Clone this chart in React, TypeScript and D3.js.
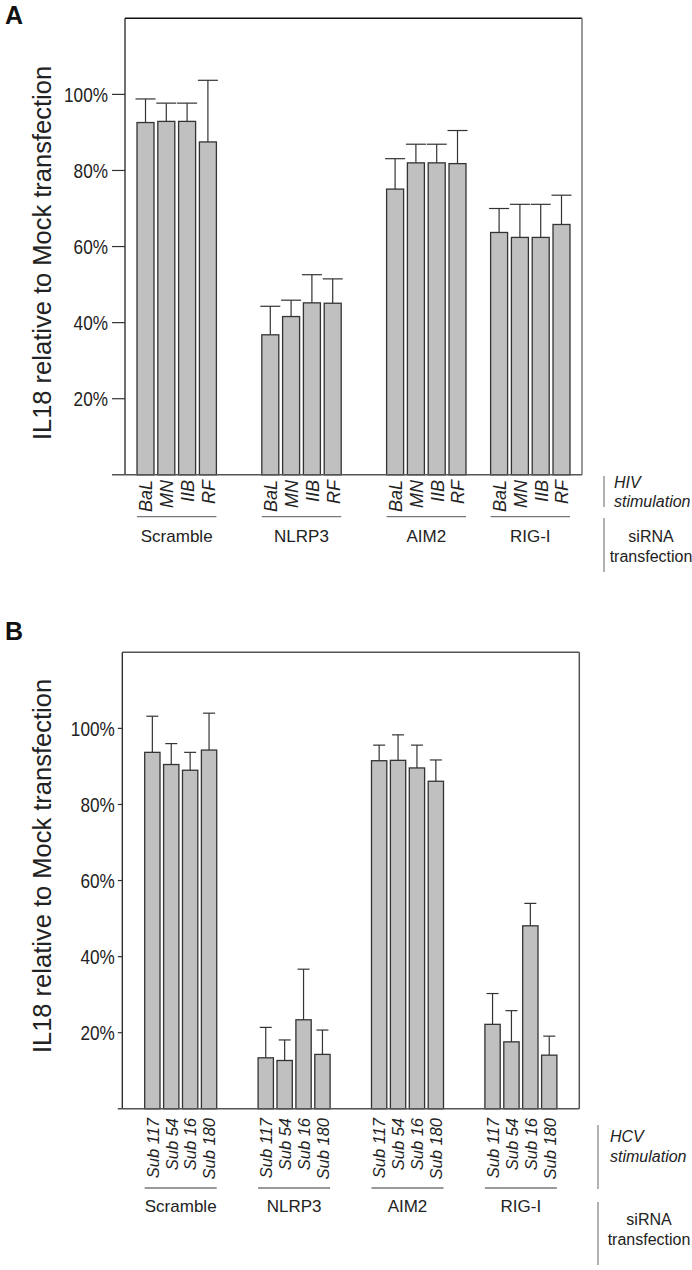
import { useEffect, useRef } from 'react';
import * as d3 from 'd3';

// siRNA groups (shared by both panels)
const sirnaGroups = ['Scramble', 'NLRP3', 'AIM2', 'RIG-I'];

// Panel A: HIV strains
const hivStrains = ['BaL', 'MN', 'IIB', 'RF'];
const hivMeans = [
  [92.6, 92.9, 92.9, 87.5],
  [36.8, 41.6, 45.2, 45.1],
  [75.1, 82.0, 82.0, 81.8],
  [63.7, 62.4, 62.4, 65.8],
];
const hivErrors = [
  [6.2, 4.8, 4.8, 16.2],
  [7.5, 4.3, 7.4, 6.4],
  [8.0, 4.9, 4.9, 8.7],
  [6.3, 8.7, 8.7, 7.7],
];

// Panel B: HCV subtypes
const hcvSubtypes = ['Sub 117', 'Sub 54', 'Sub 16', 'Sub 180'];
const hcvMeans = [
  [93.7, 90.5, 89.0, 94.3],
  [13.4, 12.7, 23.4, 14.3],
  [91.5, 91.6, 89.6, 86.1],
  [22.2, 17.6, 48.1, 14.1],
];
const hcvErrors = [
  [9.5, 5.5, 4.7, 9.7],
  [8.0, 5.4, 13.3, 6.4],
  [4.1, 6.7, 6.0, 5.6],
  [8.1, 8.2, 5.9, 5.0],
];

const yTicks = [20, 40, 60, 80, 100];
const yMax = 120;

const FONT = '"Liberation Sans", Arial, Helvetica, sans-serif';

interface PanelCfg {
  letter: string;
  letterY: number;
  subs: string[];
  means: number[][];
  errors: number[][];
  gapSlots: number[];
  left: number;
  right: number;
  top: number;
  bottom: number;
  padInner: number;
  padOuter: number;
  tickLen: number;
  labelGap: number;
  capW: number;
  titleY: number;
  subFont: number;
  subTop: number;
  lineY: number;
  groupY: number;
  stimLabel: string;
  sepX: number;
  textX: number;
  stimLine: [number, number];
  stimY: [number, number];
  siLine: [number, number];
  siY: [number, number];
  siX: number;
}

const panels: PanelCfg[] = [
  {
    letter: 'A', letterY: 24,
    subs: hivStrains, means: hivMeans, errors: hivErrors,
    gapSlots: [2, 2, 1],
    left: 125, right: 582, top: 18.3, bottom: 474.8,
    padInner: 0.183, padOuter: 0.577,
    tickLen: 13, labelGap: 4, capW: 20,
    titleY: 253,
    subFont: 18, subTop: 480, lineY: 516.7, groupY: 541.5,
    stimLabel: 'HIV', sepX: 604, textX: 614,
    stimLine: [476, 507], stimY: [487.5, 506.5],
    siLine: [518, 572], siY: [541.5, 561.5], siX: 651,
  },
  {
    letter: 'B', letterY: 640,
    subs: hcvSubtypes, means: hcvMeans, errors: hcvErrors,
    gapSlots: [2, 2, 2],
    left: 122.3, right: 579.3, top: 652.3, bottom: 1108.8,
    padInner: 0.19, padOuter: 1.185,
    tickLen: 4.5, labelGap: 3, capW: 12,
    titleY: 866,
    subFont: 16.5, subTop: 1118, lineY: 1188, groupY: 1211.5,
    stimLabel: 'HCV', sepX: 598, textX: 610,
    stimLine: [1125, 1189], stimY: [1141.5, 1162],
    siLine: [1202, 1265], siY: [1225, 1245], siX: 649,
  },
];

export default function App() {
  const ref = useRef<SVGSVGElement | null>(null);

  useEffect(() => {
    if (!ref.current) return;
    const svg = d3.select(ref.current);
    svg.selectAll('*').remove();

    panels.forEach(p => {
      const g = svg.append('g');

      // slot list: bars + empty spacer slots between groups
      const slots: string[] = [];
      sirnaGroups.forEach((grp, gi) => {
        p.subs.forEach(s => slots.push(`${grp}|${s}`));
        if (gi < sirnaGroups.length - 1) {
          for (let k = 0; k < p.gapSlots[gi]; k++) slots.push(`gap${gi}-${k}`);
        }
      });

      const x = d3.scaleBand<string>()
        .domain(slots)
        .range([p.left, p.right])
        .paddingInner(p.padInner)
        .paddingOuter(p.padOuter);

      const y = d3.scaleLinear().domain([0, yMax]).range([p.bottom, p.top]);

      const bars = sirnaGroups.flatMap((grp, gi) =>
        p.subs.map((s, si) => ({
          key: `${grp}|${s}`,
          grp,
          sub: s,
          mean: p.means[gi][si],
          err: p.errors[gi][si],
        }))
      );

      // error bars (upper only)
      const eb = g.append('g').attr('stroke', '#333').attr('stroke-width', 1.2);
      bars.forEach(d => {
        const cx = x(d.key)! + x.bandwidth() / 2;
        eb.append('line').attr('x1', cx).attr('x2', cx)
          .attr('y1', y(d.mean)).attr('y2', y(d.mean + d.err));
        eb.append('line').attr('x1', cx - p.capW / 2).attr('x2', cx + p.capW / 2)
          .attr('y1', y(d.mean + d.err)).attr('y2', y(d.mean + d.err));
      });

      g.append('g')
        .selectAll('rect')
        .data(bars)
        .enter()
        .append('rect')
        .attr('x', d => x(d.key)!)
        .attr('y', d => y(d.mean))
        .attr('width', x.bandwidth())
        .attr('height', d => y(0) - y(d.mean))
        .attr('fill', '#c0c0c0')
        .attr('stroke', '#333')
        .attr('stroke-width', 1.3);

      // frame
      g.append('line').attr('x1', p.left).attr('x2', p.right)
        .attr('y1', p.top).attr('y2', p.top)
        .attr('stroke', p.letter === 'A' ? '#111' : '#555').attr('stroke-width', 1.5);
      g.append('line').attr('x1', p.right).attr('x2', p.right)
        .attr('y1', p.top).attr('y2', p.bottom)
        .attr('stroke', p.letter === 'A' ? '#777' : '#555').attr('stroke-width', 1.5);
      g.append('line').attr('x1', p.left).attr('x2', p.left)
        .attr('y1', p.top).attr('y2', p.bottom)
        .attr('stroke', '#222').attr('stroke-width', 1.3);
      g.append('line').attr('x1', p.left - p.tickLen).attr('x2', p.right)
        .attr('y1', p.bottom).attr('y2', p.bottom)
        .attr('stroke', '#555').attr('stroke-width', 1.5);

      // y ticks (labels condensed horizontally like the narrow face of the original)
      const ty = g.append('g');
      yTicks.forEach(t => {
        ty.append('line').attr('x1', p.left - p.tickLen).attr('x2', p.left)
          .attr('y1', y(t)).attr('y2', y(t))
          .attr('stroke', '#333').attr('stroke-width', 1.2);
        ty.append('text')
          .attr('transform', `translate(${p.left - p.tickLen - p.labelGap},${y(t)}) scale(0.86,1)`)
          .attr('dy', '0.36em')
          .attr('text-anchor', 'end')
          .attr('font-family', FONT)
          .attr('font-size', 20)
          .attr('fill', '#222')
          .text(`${t}%`);
      });

      // y title
      g.append('text')
        .attr('transform', `translate(51,${p.titleY}) rotate(-90)`)
        .attr('text-anchor', 'middle')
        .attr('font-family', FONT)
        .attr('font-size', 25.5)
        .attr('fill', '#222')
        .text('IL18 relative to Mock transfection');

      // panel letter
      g.append('text')
        .attr('x', 5)
        .attr('y', p.letterY)
        .attr('font-family', FONT)
        .attr('font-weight', 'bold')
        .attr('font-size', 25)
        .attr('fill', '#111')
        .text(p.letter);

      // sub labels (rotated italic)
      bars.forEach(d => {
        const cx = x(d.key)! + x.bandwidth() / 2;
        g.append('text')
          .attr('transform', `translate(${cx + p.subFont * 0.38},${p.subTop}) rotate(-90)`)
          .attr('text-anchor', 'end')
          .attr('font-family', FONT)
          .attr('font-style', 'italic')
          .attr('font-size', p.subFont)
          .attr('fill', '#222')
          .text(d.sub);
      });

      // group underline + names
      sirnaGroups.forEach(grp => {
        const x0 = x(`${grp}|${p.subs[0]}`)!;
        const x1 = x(`${grp}|${p.subs[p.subs.length - 1]}`)! + x.bandwidth();
        g.append('line').attr('x1', x0).attr('x2', x1)
          .attr('y1', p.lineY).attr('y2', p.lineY)
          .attr('stroke', '#777').attr('stroke-width', 1.3);
        g.append('text')
          .attr('x', (x0 + x1) / 2)
          .attr('y', p.groupY)
          .attr('text-anchor', 'middle')
          .attr('font-family', FONT)
          .attr('font-size', 17)
          .attr('fill', '#222')
          .text(grp);
      });

      // right annotations
      g.append('line').attr('x1', p.sepX).attr('x2', p.sepX)
        .attr('y1', p.stimLine[0]).attr('y2', p.stimLine[1])
        .attr('stroke', '#888').attr('stroke-width', 1.3);
      g.append('line').attr('x1', p.sepX).attr('x2', p.sepX)
        .attr('y1', p.siLine[0]).attr('y2', p.siLine[1])
        .attr('stroke', '#888').attr('stroke-width', 1.3);
      [p.stimLabel, 'stimulation'].forEach((t, i) => {
        g.append('text')
          .attr('x', p.textX)
          .attr('y', p.stimY[i])
          .attr('font-family', FONT)
          .attr('font-style', 'italic')
          .attr('font-size', 16)
          .attr('fill', '#222')
          .text(t);
      });
      ['siRNA', 'transfection'].forEach((t, i) => {
        g.append('text')
          .attr('x', p.siX)
          .attr('y', p.siY[i])
          .attr('text-anchor', 'middle')
          .attr('font-family', FONT)
          .attr('font-size', 16)
          .attr('fill', '#222')
          .text(t);
      });
    });
  }, []);

  return (
    <div style={{ position: 'absolute', left: 0, top: 0, background: '#fff' }}>
      <svg ref={ref} width={692} height={1270} style={{ display: 'block' }}></svg>
    </div>
  );
}
